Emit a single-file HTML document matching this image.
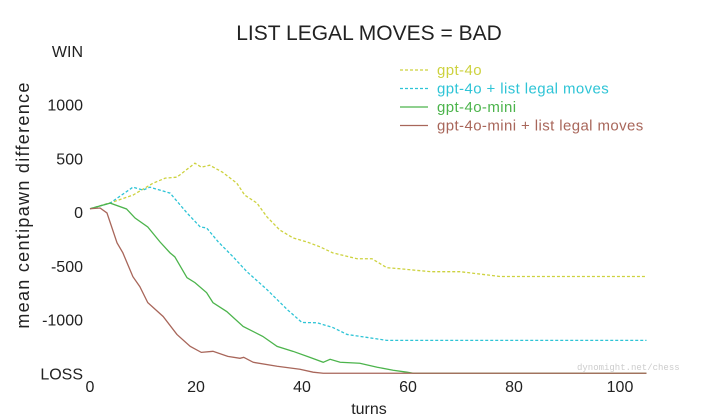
<!DOCTYPE html>
<html><head><meta charset="utf-8"><style>
body{margin:0;background:#fff;}
svg{display:block;font-family:"Liberation Sans",sans-serif;}
</style></head><body>
<svg id="chart" width="720" height="420">
<text x="369" y="40" text-anchor="middle" font-size="21" fill="#222">LIST LEGAL MOVES = BAD</text>
<text x="369" y="414" text-anchor="middle" font-size="16" fill="#222">turns</text>
<text transform="translate(29,205) rotate(-90)" text-anchor="middle" font-size="18" letter-spacing="1.3" fill="#222">mean centipawn difference</text>
<text x="577" y="370" font-family="Liberation Mono,monospace" font-size="9" fill="#ccc">dynomight.net/chess</text>
<g id="axes"></g><g id="series"></g><g id="legend"></g>
</svg>
<script>
const xTicks=[0,20,40,60,80,100];
const yTicks=[1500,1000,500,0,-500,-1000,-1500];
const yTickLabels=["WIN","1000","500","0","-500","-1000","LOSS"];
const seriesNames=["gpt-4o","gpt-4o + list legal moves","gpt-4o-mini","gpt-4o-mini + list legal moves"];
const t4o=[0,4.3,8.1,11.9,14.2,16.4,19.8,21,22.6,25,27.7,29.2,31.5,33.4,35.8,38.3,41,43.4,45.8,50.4,53.2,56,58.5,64.2,69.8,77.4,105];
const v4o=[30,93,157,268,315,324,454,417,435,370,268,157,83,-46,-167,-241,-280,-324,-380,-435,-435,-518,-528,-555,-555,-600,-600];
const t4oL=[0,3.8,8.1,10,11.3,15.1,18.3,20.8,22,24.2,27,29.6,33.4,37.2,40,42.8,45.8,48.5,52.3,56,105];
const v4oL=[30,83,231,204,231,176,-9,-139,-148,-278,-417,-555,-722,-907,-1028,-1030,-1074,-1139,-1167,-1194,-1194];
const tMini=[0,3.8,6.9,8.5,10.9,13.2,15.1,16,18.3,19.8,22,23.2,25.8,28.9,32.6,35.3,38.3,41.5,44,45.3,47.2,50.9,54.2,57.2,59.8,61,105];
const vMini=[30,83,28,-56,-139,-278,-380,-417,-611,-657,-750,-843,-926,-1065,-1157,-1250,-1296,-1352,-1398,-1370,-1398,-1407,-1444,-1472,-1490,-1500,-1500];
const tMiniL=[0,1.9,3.2,5.1,6.2,8.1,9.4,10.9,13.8,16.4,18.9,21,23.2,26,28.3,29,30.8,35.3,39.6,42.1,44,105];
const vMiniL=[30,37,-9,-287,-380,-602,-694,-843,-972,-1139,-1250,-1306,-1296,-1343,-1361,-1352,-1398,-1435,-1463,-1490,-1500,-1500];
const colors=["#cdd23f","#2ec4d6","#4cb44c","#a8665a"];
const dashed=[true,true,false,false];
const NS="http://www.w3.org/2000/svg";
const xs=t=>90+5.3*t, ys=v=>212-0.1075*v;
const axes=document.getElementById('axes');
xTicks.forEach(t=>{const e=document.createElementNS(NS,'text');
e.setAttribute('x',xs(t));e.setAttribute('y',392);e.setAttribute('text-anchor','middle');e.setAttribute('font-size','16');e.setAttribute('fill','#222');e.textContent=t;


axes.appendChild(e);});
yTicks.forEach((v,i)=>{const e=document.createElementNS(NS,'text');
e.setAttribute('x',83);e.setAttribute('y',ys(v)+6);e.setAttribute('text-anchor','end');e.setAttribute('font-size','16');e.setAttribute('fill','#222');e.textContent=yTickLabels[i];


axes.appendChild(e);});
const data=[[t4o,v4o],[t4oL,v4oL],[tMini,vMini],[tMiniL,vMiniL]];
const sg=document.getElementById('series'),lg=document.getElementById('legend');
data.forEach((d,i)=>{const p=document.createElementNS(NS,'polyline');
p.setAttribute('points',d[0].map((t,j)=>xs(t)+','+ys(d[1][j])).join(' '));
p.setAttribute('fill','none');p.setAttribute('stroke',colors[i]);p.setAttribute('stroke-width','1.3');
if(dashed[i])p.setAttribute('stroke-dasharray','3,2');


sg.appendChild(p);
const y=70+18.5*i;
const l=document.createElementNS(NS,'line');
l.setAttribute('x1',400);l.setAttribute('x2',428);l.setAttribute('y1',y);l.setAttribute('y2',y);l.setAttribute('stroke',colors[i]);l.setAttribute('stroke-width','1.3');
if(dashed[i])l.setAttribute('stroke-dasharray','3,2');


lg.appendChild(l);
const tx=document.createElementNS(NS,'text');
tx.setAttribute('x',437);tx.setAttribute('y',y+5);tx.setAttribute('font-size','15');tx.setAttribute('letter-spacing','0.4');tx.setAttribute('fill',colors[i]);tx.textContent=seriesNames[i];


lg.appendChild(tx);});
</script>
</body></html>
